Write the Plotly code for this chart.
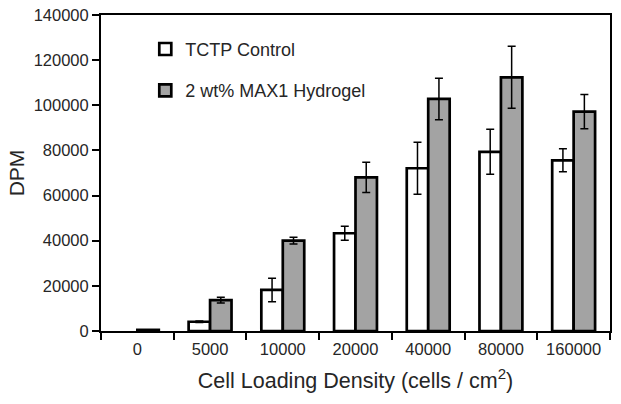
import plotly.graph_objects as go

categories = ["0", "5000", "10000", "20000", "40000", "80000", "160000"]
# control at 0 cells/cm2 shows no visible bar in the figure
control = [None, 4100, 18200, 43300, 72100, 79400, 75600]
control_err = [None, 300, 5200, 3100, 11500, 10000, 5100]
gel = [500, 13700, 40000, 68100, 102800, 112400, 97200]
gel_err = [None, 1300, 1500, 6700, 9200, 13700, 7600]
y_ticks = [0, 20000, 40000, 60000, 80000, 100000, 120000, 140000]

FONT = "Liberation Sans, Arial, sans-serif"
TXT = "#262626"
LW = 2.7

fig = go.Figure()
fig.add_trace(go.Bar(
    x=categories, y=control, name="TCTP Control", legendgroup="a",
    marker=dict(color="white", line=dict(color="black", width=LW)),
    error_y=dict(type="data", array=control_err, color="black", thickness=1.5, width=4),
))
fig.add_trace(go.Bar(
    x=categories, y=gel, name="2 wt% MAX1 Hydrogel", legendgroup="b",
    marker=dict(color="#a3a3a3", line=dict(color="black", width=LW)),
    error_y=dict(type="data", array=gel_err, color="black", thickness=1.5, width=4),
))

fig.update_layout(
    template="none",
    width=621, height=404,
    margin=dict(l=101, r=11, t=15, b=73, autoexpand=False),
    paper_bgcolor="white", plot_bgcolor="white",
    barmode="group", bargap=0.41, bargroupgap=0,
    font=dict(family=FONT, color=TXT, size=16.5),
    showlegend=True,
    legend=dict(x=0.087, y=0.95, xanchor="left", yanchor="top",
                bgcolor="rgba(0,0,0,0)", borderwidth=0, font=dict(size=18, color=TXT),
                traceorder="grouped", tracegroupgap=15),
    xaxis=dict(
        type="category", automargin=False,
        showline=True, linecolor="black", linewidth=2, mirror=True,
        ticks="outside", tickson="boundaries", ticklen=7, tickwidth=2, tickcolor="black",
        ticklabelstandoff=2,
        showgrid=False, tickfont=dict(size=16.5, color=TXT),
        title=dict(text="Cell Loading Density (cells / cm<sup>2</sup>)", font=dict(size=21.5, color=TXT), standoff=16),
    ),
    yaxis=dict(
        automargin=False,
        range=[0, 140000], tickvals=y_ticks, ticktext=[str(v) for v in y_ticks],
        showline=True, linecolor="black", linewidth=2, mirror=True,
        ticks="outside", ticklen=7, tickwidth=2, tickcolor="black",
        showgrid=False, zeroline=False, tickfont=dict(size=16.5, color=TXT),
        title=dict(text="DPM", font=dict(size=21, color=TXT), standoff=3),
    ),
)

fig.write_html("out.html", config={"displayModeBar": False},
               post_script="document.body.style.margin='0';")
